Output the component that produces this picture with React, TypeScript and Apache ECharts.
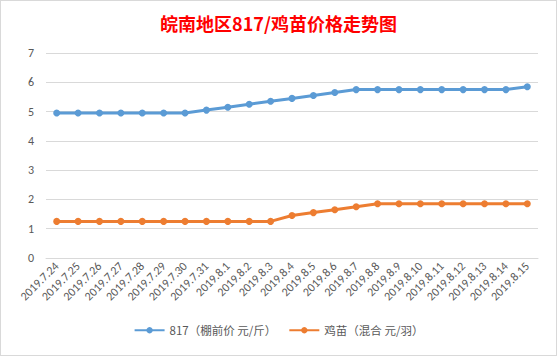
import React, { useEffect, useRef } from "react";
import * as echarts from "echarts";

const title = "皖南地区817/鸡苗价格走势图";
const categories = [
  "2019.7.24", "2019.7.25", "2019.7.26", "2019.7.27", "2019.7.28", "2019.7.29", "2019.7.30", "2019.7.31",
  "2019.8.1", "2019.8.2", "2019.8.3", "2019.8.4", "2019.8.5", "2019.8.6", "2019.8.7", "2019.8.8",
  "2019.8.9", "2019.8.10", "2019.8.11", "2019.8.12", "2019.8.13", "2019.8.14", "2019.8.15",
];
const seriesNames = ["817（棚前价 元/斤）", "鸡苗（混合 元/羽）"];
const price817 = [
  4.95, 4.95, 4.95, 4.95, 4.95, 4.95, 4.95, 5.05,
  5.15, 5.25, 5.35, 5.45, 5.55, 5.65, 5.75, 5.75,
  5.75, 5.75, 5.75, 5.75, 5.75, 5.75, 5.85,
];
const chickPrice = [
  1.25, 1.25, 1.25, 1.25, 1.25, 1.25, 1.25, 1.25,
  1.25, 1.25, 1.25, 1.45, 1.55, 1.65, 1.75, 1.85,
  1.85, 1.85, 1.85, 1.85, 1.85, 1.85, 1.85,
];

export default function App() {
  const ref = useRef<HTMLDivElement>(null);
  useEffect(() => {
    if (!ref.current) return;
    const chart = echarts.init(ref.current, null, { renderer: "svg" });
    const font = "Calibri, 'Liberation Sans', 'Noto Sans CJK SC', sans-serif";
    chart.setOption({
      animation: false,
      backgroundColor: "#ffffff",
      title: {
        text: title,
        left: "center",
        top: 8,
        textStyle: {
          color: "#ff0000",
          fontSize: 18,
          fontWeight: "bold",
          fontFamily: "'Noto Sans CJK SC', sans-serif",
        },
      },
      grid: { left: 45, right: 18, top: 52, bottom: 97, containLabel: false },
      legend: {
        bottom: 14,
        left: "center",
        itemWidth: 30,
        itemHeight: 8,
        itemGap: 12,
        textStyle: { color: "#595959", fontSize: 11.5, fontFamily: "'Noto Sans CJK SC', sans-serif" },
        data: seriesNames,
      },
      xAxis: {
        type: "category",
        data: categories,
        boundaryGap: true,
        axisLine: { lineStyle: { color: "#d9d9d9" } },
        axisTick: { show: false },
        axisLabel: {
          rotate: 45,
          interval: 0,
          color: "#595959",
          fontSize: 12,
          fontFamily: font,
          margin: 6,
        },
      },
      yAxis: {
        type: "value",
        min: 0,
        max: 7,
        interval: 1,
        axisLine: { show: false },
        axisTick: { show: false },
        splitLine: { lineStyle: { color: "#d9d9d9" } },
        axisLabel: { color: "#595959", fontSize: 12, fontFamily: font, margin: 12 },
      },
      series: [
        {
          name: seriesNames[0],
          type: "line",
          data: price817,
          color: "#5b9bd5",
          lineStyle: { width: 3, color: "#5b9bd5" },
          symbol: "circle",
          symbolSize: 7,
          itemStyle: { color: "#5b9bd5" },
        },
        {
          name: seriesNames[1],
          type: "line",
          data: chickPrice,
          color: "#ed7d31",
          lineStyle: { width: 3, color: "#ed7d31" },
          symbol: "circle",
          symbolSize: 7,
          itemStyle: { color: "#ed7d31" },
        },
      ],
    });
    return () => chart.dispose();
  }, []);
  return (
    <div
      style={{
        position: "fixed",
        left: 0,
        top: 0,
        width: 557,
        height: 356,
        boxSizing: "border-box",
        border: "1px solid #d9d9d9",
        background: "#fff",
      }}
    >
      <div ref={ref} style={{ width: 555, height: 354 }} />
    </div>
  );
}
